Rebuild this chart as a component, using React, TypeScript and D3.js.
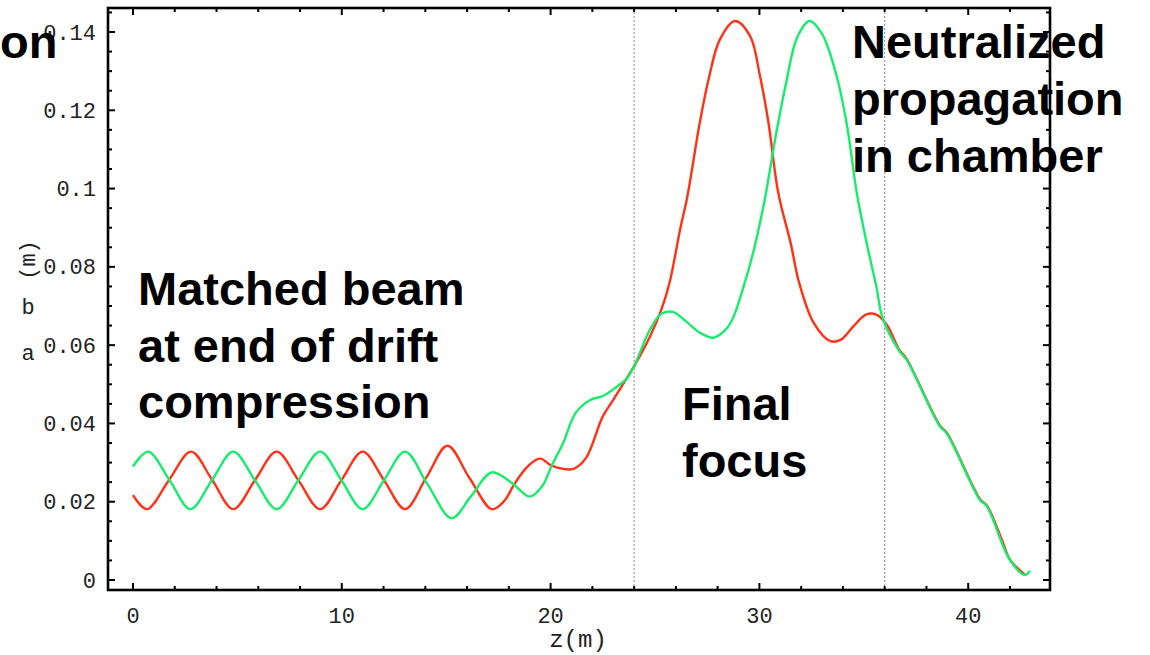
import React from "react";
import * as d3 from "d3";

// ---- data (z in m, envelope radius in m) ----
const redZ = [0, 0.67, 1.72, 2.78, 3.8, 4.8, 5.84, 6.88, 7.92, 8.96, 9.98, 11.0, 12.02, 13.03, 14.05, 15.06, 16.1, 17.18, 17.75, 18.2, 18.5, 19.0, 19.5, 20.05, 20.6, 21.1, 21.7, 22.5, 23.0, 23.6, 24.0, 24.76, 25.3, 25.7, 26.2, 26.55, 27.15, 27.6, 28.1, 28.83, 29.55, 30.03, 30.43, 30.9, 31.5, 31.9, 32.6, 33.4, 33.9, 34.5, 35.1, 35.6, 36.1, 36.7, 37.05, 38.65, 38.97, 40.56, 40.9, 41.6, 42.0, 42.72];
const redV = [0.0217, 0.0181, 0.0255, 0.0328, 0.0255, 0.0181, 0.0255, 0.0328, 0.0255, 0.0181, 0.0255, 0.0328, 0.0255, 0.0181, 0.0262, 0.0343, 0.0262, 0.0181, 0.02, 0.0239, 0.0264, 0.0295, 0.031, 0.0292, 0.0284, 0.0284, 0.0312, 0.0418, 0.046, 0.0512, 0.0546, 0.0622, 0.069, 0.076, 0.0895, 0.098, 0.117, 0.1287, 0.138, 0.1428, 0.139, 0.1287, 0.117, 0.099, 0.086, 0.076, 0.0657, 0.061, 0.0614, 0.0648, 0.0678, 0.0678, 0.0652, 0.0588, 0.0565, 0.0394, 0.0377, 0.0207, 0.019, 0.0105, 0.0052, 0.0013];

const greenZ = [0, 0.73, 1.75, 2.75, 3.78, 4.8, 5.84, 6.88, 7.92, 8.96, 9.98, 11.0, 12.02, 13.03, 14.1, 15.26, 16.2, 17.18, 18.1, 19.0, 19.6, 20.05, 20.6, 21.2, 21.9, 22.5, 23.2, 23.65, 24.0, 24.76, 25.3, 25.85, 26.5, 27.2, 27.8, 28.3, 28.7, 29.2, 29.7, 30.25, 30.8, 31.3, 31.8, 32.4, 33.0, 33.7, 34.2, 34.66, 35.1, 35.6, 35.9, 36.7, 37.05, 38.65, 38.97, 40.56, 40.9, 42.0, 42.72, 42.96];
const greenV = [0.029, 0.0328, 0.0255, 0.0181, 0.0255, 0.0328, 0.0255, 0.0181, 0.0255, 0.0328, 0.0255, 0.0181, 0.0255, 0.0328, 0.0245, 0.0158, 0.0215, 0.0275, 0.025, 0.0213, 0.024, 0.0292, 0.035, 0.0427, 0.046, 0.047, 0.0495, 0.0515, 0.0546, 0.064, 0.068, 0.0685, 0.066, 0.063, 0.0619, 0.0635, 0.0665, 0.0742, 0.0836, 0.097, 0.114, 0.1275, 0.1385, 0.1428, 0.1395, 0.1287, 0.116, 0.099, 0.087, 0.075, 0.067, 0.0585, 0.0563, 0.0392, 0.0375, 0.0205, 0.0188, 0.0051, 0.0013, 0.0024];

const xMajorTicks = [0, 10, 20, 30, 40];
const xTickLabels = ["0", "10", "20", "30", "40"];
const yMajorTicks = [0, 0.02, 0.04, 0.06, 0.08, 0.1, 0.12, 0.14];
const yTickLabels = ["0", "0.02", "0.04", "0.06", "0.08", "0.1", "0.12", "0.14"];
const sectionBounds = [24, 36];

const annoLeft = ["Matched beam", "at end of drift", "compression"];
const annoMid = ["Final", "focus"];
const annoRight = ["Neutralized", "propagation", "in chamber"];

// ---- layout ----
const W = 1150, H = 655;
const frame = { l: 108, r: 1050, t: 8, b: 590 };
const x = d3.scaleLinear().domain([0, 40]).range([133, 968.2]);
const y = d3.scaleLinear().domain([0, 0.14]).range([580, 32]);

const RED = "#ff3218";
const GREEN = "#18ec6c";

const xMinor = d3.range(0, 44, 2).filter((v) => x(v) > frame.l && x(v) < frame.r);
const yMinor = d3.range(0, 0.146, 0.005).filter((v) => y(v) > frame.t && y(v) < frame.b);

const mono = "'Liberation Mono', 'DejaVu Sans Mono', monospace";
const sans = "'Liberation Sans', Arial, Helvetica, sans-serif";

export default function App() {
  const line = d3
    .line<[number, number]>()
    .x((d) => x(d[0]))
    .y((d) => y(d[1]))
    .curve(d3.curveCatmullRom.alpha(0.5));
  const red = redZ.map((z, i) => [z, redV[i]] as [number, number]);
  const green = greenZ.map((z, i) => [z, greenV[i]] as [number, number]);
  const isMajorX = (v: number) => Math.abs(v % 10) < 1e-6;
  const isMajorY = (v: number) => Math.abs(v / 0.02 - Math.round(v / 0.02)) < 1e-6;

  return (
    <svg
      width={W}
      height={H}
      style={{ position: "absolute", left: 0, top: 0, background: "#fff" }}
    >
      <rect x={0} y={0} width={W} height={H} fill="#fff" />
      {sectionBounds.map((z) => (
        <line
          key={z}
          x1={x(z)}
          x2={x(z)}
          y1={frame.t}
          y2={frame.b}
          stroke="#8a8a8a"
          strokeWidth={1}
          strokeDasharray="2,2"
        />
      ))}
      <path d={line(red) || ""} fill="none" stroke={RED} strokeWidth={2.4} />
      <path d={line(green) || ""} fill="none" stroke={GREEN} strokeWidth={2.4} />
      <rect
        x={frame.l}
        y={frame.t}
        width={frame.r - frame.l}
        height={frame.b - frame.t}
        fill="none"
        stroke="#000"
        strokeWidth={2.6}
      />
      {xMinor.map((v) => {
        const len = isMajorX(v) ? 7 : 4;
        return (
          <g key={"xt" + v}>
            <line x1={x(v)} x2={x(v)} y1={frame.b} y2={frame.b - len} stroke="#000" strokeWidth={2} />
            <line x1={x(v)} x2={x(v)} y1={frame.t} y2={frame.t + len} stroke="#000" strokeWidth={2} />
          </g>
        );
      })}
      {yMinor.map((v) => {
        const len = isMajorY(v) ? 7 : 4;
        return (
          <g key={"yt" + v}>
            <line x1={frame.l} x2={frame.l + len} y1={y(v)} y2={y(v)} stroke="#000" strokeWidth={2} />
            <line x1={frame.r} x2={frame.r - len} y1={y(v)} y2={y(v)} stroke="#000" strokeWidth={2} />
          </g>
        );
      })}
      {xMajorTicks.map((v, i) => (
        <text
          key={"xl" + v}
          x={x(v)}
          y={623}
          textAnchor="middle"
          fontFamily={mono}
          fontSize={22}
          fill="#222"
        >
          {xTickLabels[i]}
        </text>
      ))}
      {yMajorTicks.map((v, i) => (
        <text
          key={"yl" + v}
          x={96}
          y={y(v) + 7.5}
          textAnchor="end"
          fontFamily={mono}
          fontSize={22}
          fill="#222"
        >
          {yTickLabels[i]}
        </text>
      ))}
      <text x={578} y={647} textAnchor="middle" fontFamily={mono} fontSize={24} fill="#222">
        z(m)
      </text>
      <text
        transform="translate(35,260) rotate(-90)"
        textAnchor="middle"
        fontFamily={mono}
        fontSize={22}
        fill="#222"
      >
        (m)
      </text>
      <text x={28} y={314} textAnchor="middle" fontFamily={mono} fontSize={22} fill="#222">
        b
      </text>
      <text x={28} y={360} textAnchor="middle" fontFamily={mono} fontSize={22} fill="#222">
        a
      </text>
      <text x={0} y={58} fontFamily={sans} fontWeight="bold" fontSize={47} fill="#000">
        on
      </text>
      {annoLeft.map((t, i) => (
        <text key={t} x={138} y={305 + i * 56.5} fontFamily={sans} fontWeight="bold" fontSize={47} fill="#000">
          {t}
        </text>
      ))}
      {annoMid.map((t, i) => (
        <text key={t} x={682} y={420 + i * 57} fontFamily={sans} fontWeight="bold" fontSize={47} fill="#000">
          {t}
        </text>
      ))}
      {annoRight.map((t, i) => (
        <text key={t} x={852} y={58 + i * 57} fontFamily={sans} fontWeight="bold" fontSize={47} fill="#000">
          {t}
        </text>
      ))}
    </svg>
  );
}
